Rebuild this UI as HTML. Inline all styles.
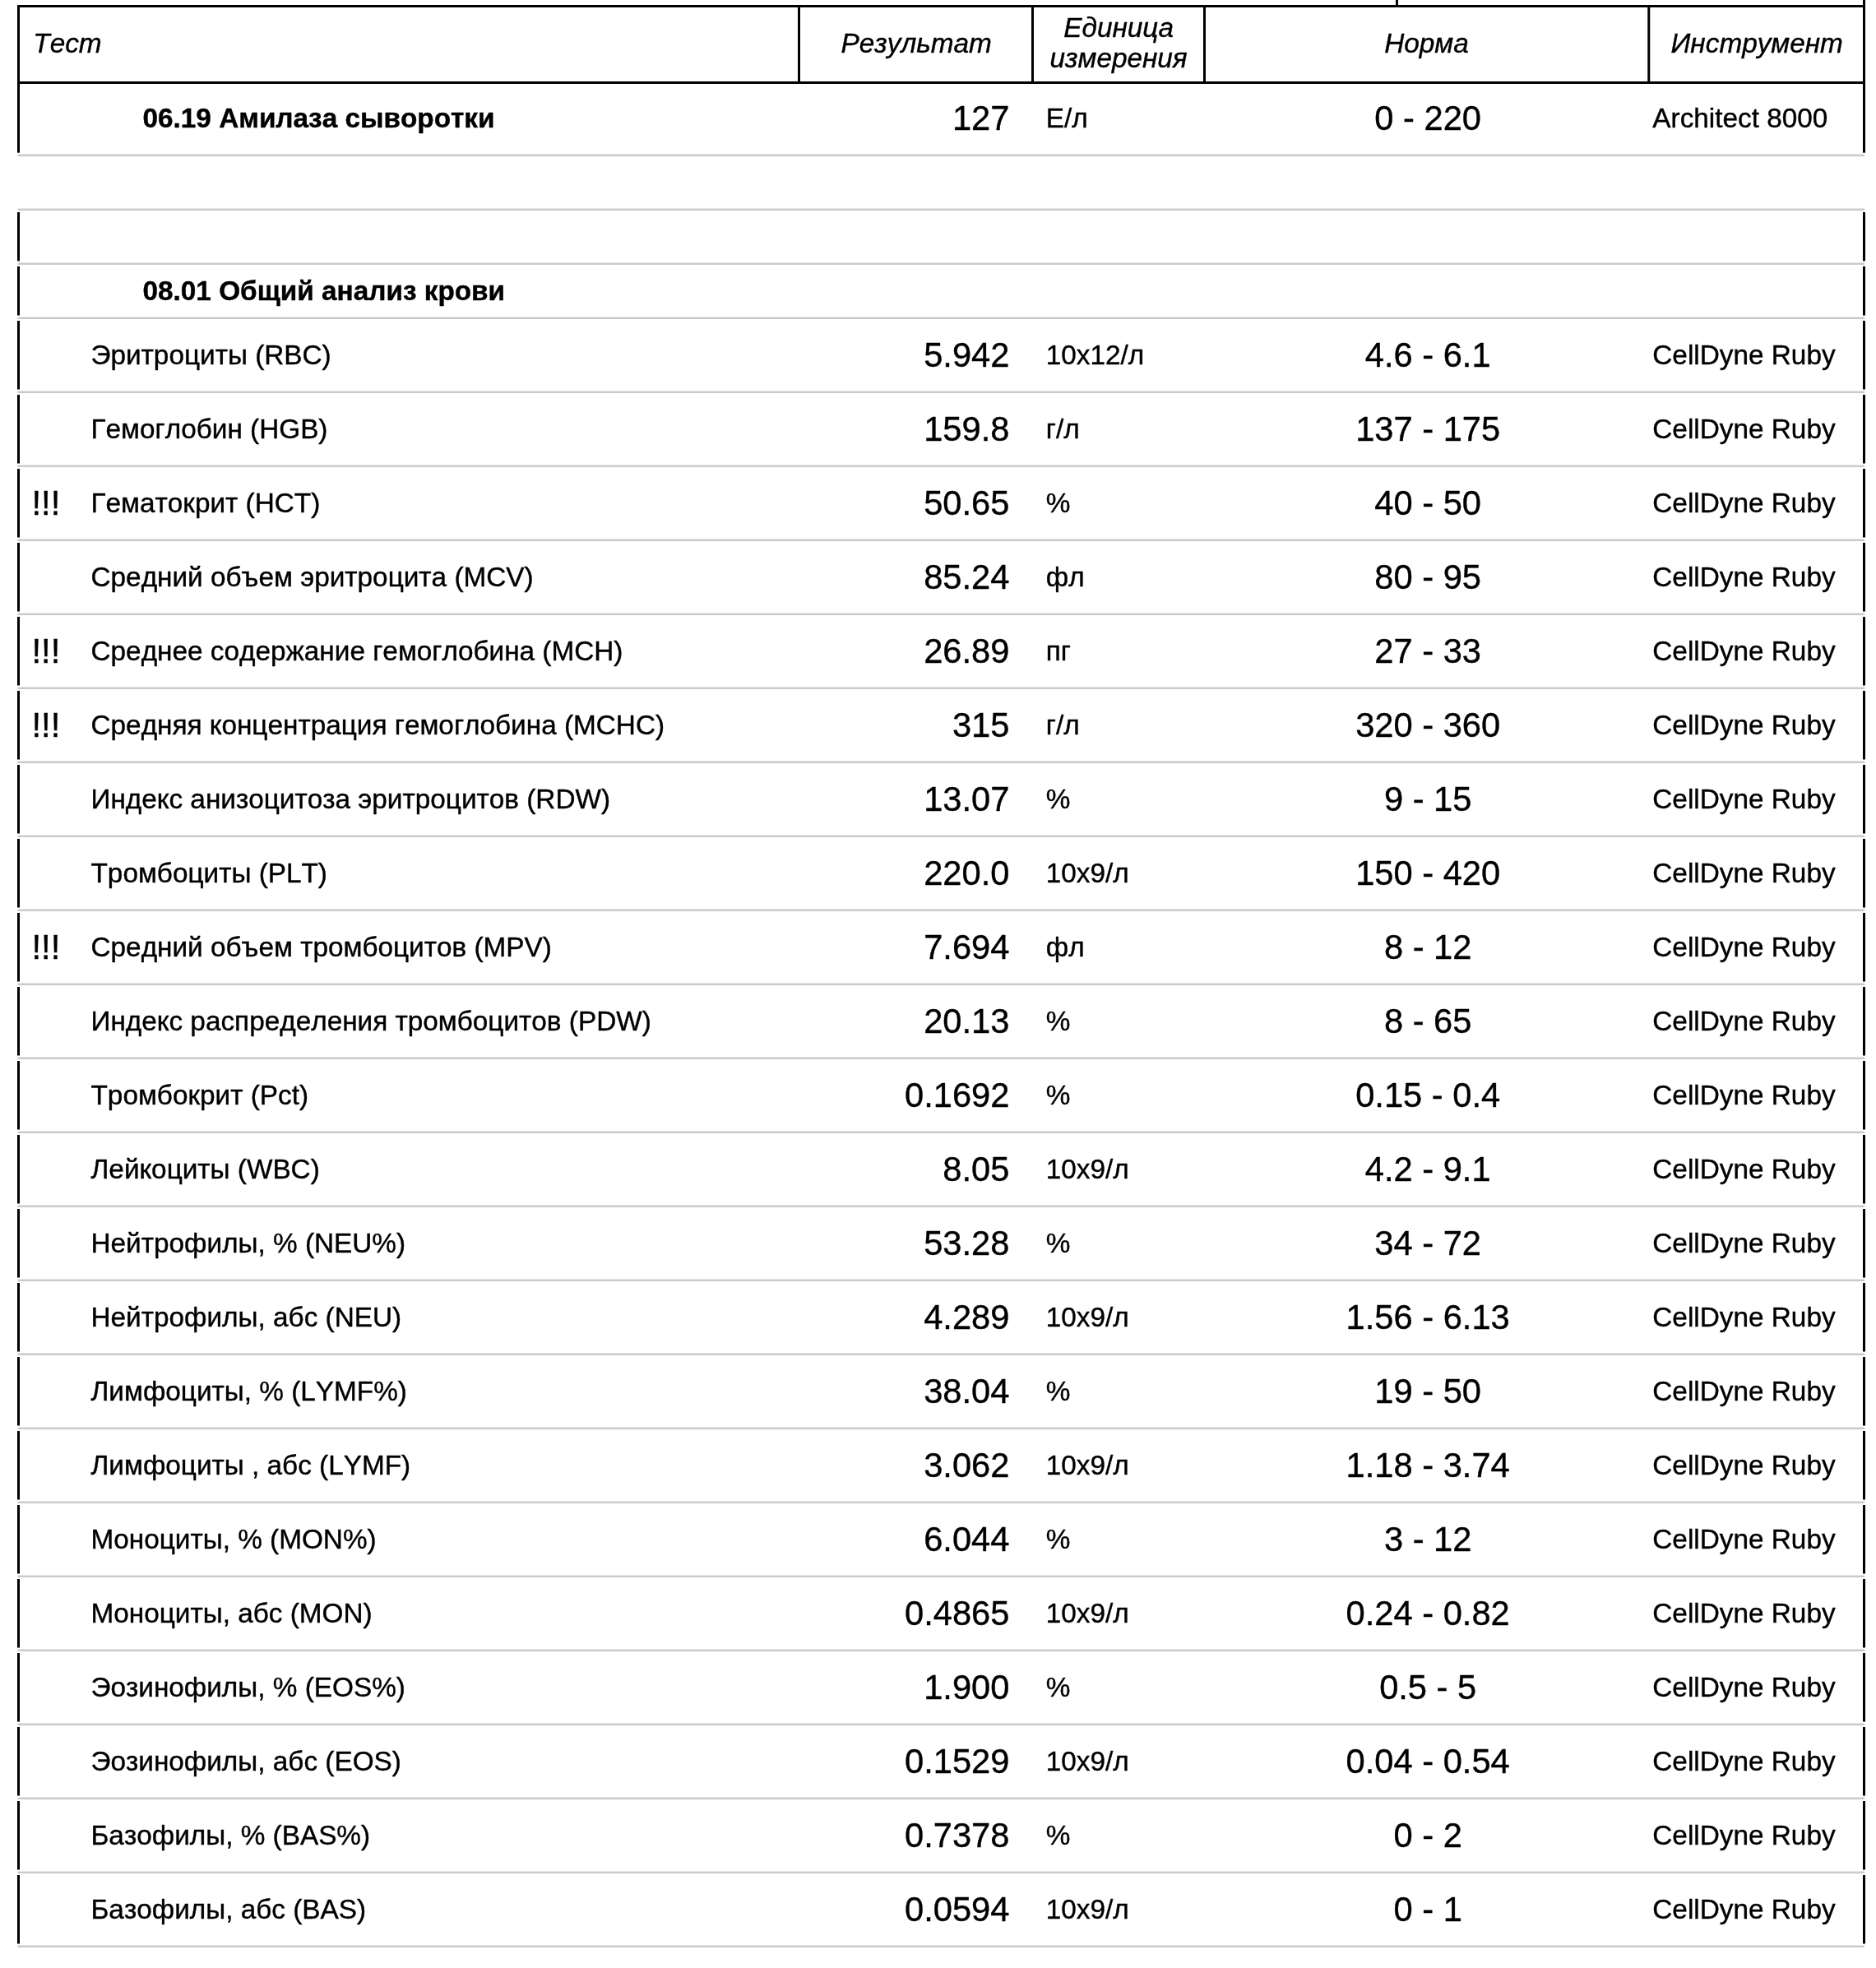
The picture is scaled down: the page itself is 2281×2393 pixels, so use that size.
<!DOCTYPE html>
<html><head><meta charset="utf-8"><title>Результаты</title>
<style>
html,body{margin:0;padding:0;background:#fff}
body{width:2281px;height:2393px;position:relative;overflow:hidden;font-family:"Liberation Sans",sans-serif;color:#000}
.ln{position:absolute;left:0;top:0}
.tx{position:absolute;left:0;top:0;width:2281px;height:2393px;will-change:transform}
.t{position:absolute;-webkit-text-stroke:0.4px #000;font-kerning:none;white-space:nowrap;line-height:50px;height:50px}
.i{font-style:italic;font-size:33.333px}
.b{font-weight:bold;font-size:33.333px}
.n8{font-size:33.333px}
.n10{font-size:41.667px}
</style></head><body>
<svg class="ln" width="2281" height="2393" viewBox="0 0 2281 2393">
<rect x="21.50" y="187.65" width="2245.50" height="2.50" fill="#cacaca"/>
<rect x="21.50" y="253.55" width="2245.50" height="2.50" fill="#cacaca"/>
<rect x="21.50" y="319.45" width="2245.50" height="2.50" fill="#cacaca"/>
<rect x="21.50" y="385.55" width="2245.50" height="2.50" fill="#cacaca"/>
<rect x="21.50" y="475.55" width="2245.50" height="2.50" fill="#cacaca"/>
<rect x="21.50" y="565.55" width="2245.50" height="2.50" fill="#cacaca"/>
<rect x="21.50" y="655.55" width="2245.50" height="2.50" fill="#cacaca"/>
<rect x="21.50" y="745.55" width="2245.50" height="2.50" fill="#cacaca"/>
<rect x="21.50" y="835.55" width="2245.50" height="2.50" fill="#cacaca"/>
<rect x="21.50" y="925.55" width="2245.50" height="2.50" fill="#cacaca"/>
<rect x="21.50" y="1015.55" width="2245.50" height="2.50" fill="#cacaca"/>
<rect x="21.50" y="1105.55" width="2245.50" height="2.50" fill="#cacaca"/>
<rect x="21.50" y="1195.55" width="2245.50" height="2.50" fill="#cacaca"/>
<rect x="21.50" y="1285.55" width="2245.50" height="2.50" fill="#cacaca"/>
<rect x="21.50" y="1375.55" width="2245.50" height="2.50" fill="#cacaca"/>
<rect x="21.50" y="1465.55" width="2245.50" height="2.50" fill="#cacaca"/>
<rect x="21.50" y="1555.55" width="2245.50" height="2.50" fill="#cacaca"/>
<rect x="21.50" y="1645.55" width="2245.50" height="2.50" fill="#cacaca"/>
<rect x="21.50" y="1735.55" width="2245.50" height="2.50" fill="#cacaca"/>
<rect x="21.50" y="1825.55" width="2245.50" height="2.50" fill="#cacaca"/>
<rect x="21.50" y="1915.55" width="2245.50" height="2.50" fill="#cacaca"/>
<rect x="21.50" y="2005.55" width="2245.50" height="2.50" fill="#cacaca"/>
<rect x="21.50" y="2095.55" width="2245.50" height="2.50" fill="#cacaca"/>
<rect x="21.50" y="2185.55" width="2245.50" height="2.50" fill="#cacaca"/>
<rect x="21.50" y="2275.55" width="2245.50" height="2.50" fill="#cacaca"/>
<rect x="21.50" y="2365.55" width="2245.50" height="2.50" fill="#cacaca"/>
<rect x="21.00" y="6.00" width="2247.00" height="3.00" fill="#000"/>
<rect x="21.00" y="99.00" width="2247.00" height="3.00" fill="#000"/>
<rect x="970.00" y="6.00" width="3.00" height="94.00" fill="#000"/>
<rect x="1254.00" y="6.00" width="3.00" height="94.00" fill="#000"/>
<rect x="1463.00" y="6.00" width="3.00" height="94.00" fill="#000"/>
<rect x="2003.30" y="6.00" width="3.00" height="94.00" fill="#000"/>
<rect x="1697.00" y="0.00" width="3.00" height="6.00" fill="#000"/>
<rect x="21.00" y="6.00" width="3.00" height="179.70" fill="#000"/>
<rect x="2265.00" y="0.00" width="3.00" height="185.70" fill="#000"/>
<rect x="21.00" y="258.00" width="3.00" height="59.40" fill="#000"/>
<rect x="2265.00" y="258.00" width="3.00" height="59.40" fill="#000"/>
<rect x="21.00" y="323.90" width="3.00" height="59.60" fill="#000"/>
<rect x="2265.00" y="323.90" width="3.00" height="59.60" fill="#000"/>
<rect x="21.00" y="390.00" width="3.00" height="83.50" fill="#000"/>
<rect x="2265.00" y="390.00" width="3.00" height="83.50" fill="#000"/>
<rect x="21.00" y="480.00" width="3.00" height="83.50" fill="#000"/>
<rect x="2265.00" y="480.00" width="3.00" height="83.50" fill="#000"/>
<rect x="21.00" y="570.00" width="3.00" height="83.50" fill="#000"/>
<rect x="2265.00" y="570.00" width="3.00" height="83.50" fill="#000"/>
<rect x="21.00" y="660.00" width="3.00" height="83.50" fill="#000"/>
<rect x="2265.00" y="660.00" width="3.00" height="83.50" fill="#000"/>
<rect x="21.00" y="750.00" width="3.00" height="83.50" fill="#000"/>
<rect x="2265.00" y="750.00" width="3.00" height="83.50" fill="#000"/>
<rect x="21.00" y="840.00" width="3.00" height="83.50" fill="#000"/>
<rect x="2265.00" y="840.00" width="3.00" height="83.50" fill="#000"/>
<rect x="21.00" y="930.00" width="3.00" height="83.50" fill="#000"/>
<rect x="2265.00" y="930.00" width="3.00" height="83.50" fill="#000"/>
<rect x="21.00" y="1020.00" width="3.00" height="83.50" fill="#000"/>
<rect x="2265.00" y="1020.00" width="3.00" height="83.50" fill="#000"/>
<rect x="21.00" y="1110.00" width="3.00" height="83.50" fill="#000"/>
<rect x="2265.00" y="1110.00" width="3.00" height="83.50" fill="#000"/>
<rect x="21.00" y="1200.00" width="3.00" height="83.50" fill="#000"/>
<rect x="2265.00" y="1200.00" width="3.00" height="83.50" fill="#000"/>
<rect x="21.00" y="1290.00" width="3.00" height="83.50" fill="#000"/>
<rect x="2265.00" y="1290.00" width="3.00" height="83.50" fill="#000"/>
<rect x="21.00" y="1380.00" width="3.00" height="83.50" fill="#000"/>
<rect x="2265.00" y="1380.00" width="3.00" height="83.50" fill="#000"/>
<rect x="21.00" y="1470.00" width="3.00" height="83.50" fill="#000"/>
<rect x="2265.00" y="1470.00" width="3.00" height="83.50" fill="#000"/>
<rect x="21.00" y="1560.00" width="3.00" height="83.50" fill="#000"/>
<rect x="2265.00" y="1560.00" width="3.00" height="83.50" fill="#000"/>
<rect x="21.00" y="1650.00" width="3.00" height="83.50" fill="#000"/>
<rect x="2265.00" y="1650.00" width="3.00" height="83.50" fill="#000"/>
<rect x="21.00" y="1740.00" width="3.00" height="83.50" fill="#000"/>
<rect x="2265.00" y="1740.00" width="3.00" height="83.50" fill="#000"/>
<rect x="21.00" y="1830.00" width="3.00" height="83.50" fill="#000"/>
<rect x="2265.00" y="1830.00" width="3.00" height="83.50" fill="#000"/>
<rect x="21.00" y="1920.00" width="3.00" height="83.50" fill="#000"/>
<rect x="2265.00" y="1920.00" width="3.00" height="83.50" fill="#000"/>
<rect x="21.00" y="2010.00" width="3.00" height="83.50" fill="#000"/>
<rect x="2265.00" y="2010.00" width="3.00" height="83.50" fill="#000"/>
<rect x="21.00" y="2100.00" width="3.00" height="83.50" fill="#000"/>
<rect x="2265.00" y="2100.00" width="3.00" height="83.50" fill="#000"/>
<rect x="21.00" y="2190.00" width="3.00" height="83.50" fill="#000"/>
<rect x="2265.00" y="2190.00" width="3.00" height="83.50" fill="#000"/>
<rect x="21.00" y="2280.00" width="3.00" height="83.50" fill="#000"/>
<rect x="2265.00" y="2280.00" width="3.00" height="83.50" fill="#000"/>
</svg>
<div class="tx">
<div class="t i" style="top:28.25px;left:40.30px">Тест</div>
<div class="t i" style="top:28.25px;left:714.20px;width:800px;text-align:center">Результат</div>
<div class="t i" style="top:8.95px;left:960.10px;width:800px;text-align:center">Единица</div>
<div class="t i" style="top:46.45px;left:960.10px;width:800px;text-align:center">измерения</div>
<div class="t i" style="top:28.25px;left:1334.50px;width:800px;text-align:center">Норма</div>
<div class="t i" style="top:28.25px;left:1736.20px;width:800px;text-align:center">Инструмент</div>
<div class="t b" style="top:119.05px;left:173.50px">06.19 Амилаза сыворотки</div>
<div class="t n10" style="top:118.56px;right:1053.60px">127</div>
<div class="t n8" style="top:119.25px;left:1271.80px">Е/л</div>
<div class="t n10" style="top:118.56px;left:1336.20px;width:800px;text-align:center">0 - 220</div>
<div class="t n8" style="top:119.25px;left:2009.30px">Architect 8000</div>
<div class="t b" style="top:328.65px;left:173.50px">08.01 Общий анализ крови</div>
<div class="t n8" style="top:407.45px;left:110.50px">Эритроциты (RBC)</div>
<div class="t n10" style="top:406.66px;right:1053.60px">5.942</div>
<div class="t n8" style="top:407.45px;left:1271.80px">10х12/л</div>
<div class="t n10" style="top:406.66px;left:1336.20px;width:800px;text-align:center">4.6 - 6.1</div>
<div class="t n8" style="top:407.45px;left:2009.30px">CellDyne Ruby</div>
<div class="t n8" style="top:497.45px;left:110.50px">Гемоглобин (HGB)</div>
<div class="t n10" style="top:496.66px;right:1053.60px">159.8</div>
<div class="t n8" style="top:497.45px;left:1271.80px">г/л</div>
<div class="t n10" style="top:496.66px;left:1336.20px;width:800px;text-align:center">137 - 175</div>
<div class="t n8" style="top:497.45px;left:2009.30px">CellDyne Ruby</div>
<div class="t n10" style="top:586.66px;left:38.50px">!!!</div>
<div class="t n8" style="top:587.45px;left:110.50px">Гематокрит (HCT)</div>
<div class="t n10" style="top:586.66px;right:1053.60px">50.65</div>
<div class="t n8" style="top:587.45px;left:1271.80px">%</div>
<div class="t n10" style="top:586.66px;left:1336.20px;width:800px;text-align:center">40 - 50</div>
<div class="t n8" style="top:587.45px;left:2009.30px">CellDyne Ruby</div>
<div class="t n8" style="top:677.45px;left:110.50px">Средний объем эритроцита (MCV)</div>
<div class="t n10" style="top:676.66px;right:1053.60px">85.24</div>
<div class="t n8" style="top:677.45px;left:1271.80px">фл</div>
<div class="t n10" style="top:676.66px;left:1336.20px;width:800px;text-align:center">80 - 95</div>
<div class="t n8" style="top:677.45px;left:2009.30px">CellDyne Ruby</div>
<div class="t n10" style="top:766.66px;left:38.50px">!!!</div>
<div class="t n8" style="top:767.45px;left:110.50px">Среднее содержание гемоглобина (MCH)</div>
<div class="t n10" style="top:766.66px;right:1053.60px">26.89</div>
<div class="t n8" style="top:767.45px;left:1271.80px">пг</div>
<div class="t n10" style="top:766.66px;left:1336.20px;width:800px;text-align:center">27 - 33</div>
<div class="t n8" style="top:767.45px;left:2009.30px">CellDyne Ruby</div>
<div class="t n10" style="top:856.66px;left:38.50px">!!!</div>
<div class="t n8" style="top:857.45px;left:110.50px">Средняя концентрация гемоглобина (MCHC)</div>
<div class="t n10" style="top:856.66px;right:1053.60px">315</div>
<div class="t n8" style="top:857.45px;left:1271.80px">г/л</div>
<div class="t n10" style="top:856.66px;left:1336.20px;width:800px;text-align:center">320 - 360</div>
<div class="t n8" style="top:857.45px;left:2009.30px">CellDyne Ruby</div>
<div class="t n8" style="top:947.45px;left:110.50px">Индекс анизоцитоза эритроцитов (RDW)</div>
<div class="t n10" style="top:946.66px;right:1053.60px">13.07</div>
<div class="t n8" style="top:947.45px;left:1271.80px">%</div>
<div class="t n10" style="top:946.66px;left:1336.20px;width:800px;text-align:center">9 - 15</div>
<div class="t n8" style="top:947.45px;left:2009.30px">CellDyne Ruby</div>
<div class="t n8" style="top:1037.45px;left:110.50px">Тромбоциты (PLT)</div>
<div class="t n10" style="top:1036.66px;right:1053.60px">220.0</div>
<div class="t n8" style="top:1037.45px;left:1271.80px">10х9/л</div>
<div class="t n10" style="top:1036.66px;left:1336.20px;width:800px;text-align:center">150 - 420</div>
<div class="t n8" style="top:1037.45px;left:2009.30px">CellDyne Ruby</div>
<div class="t n10" style="top:1126.66px;left:38.50px">!!!</div>
<div class="t n8" style="top:1127.45px;left:110.50px">Средний объем тромбоцитов (MPV)</div>
<div class="t n10" style="top:1126.66px;right:1053.60px">7.694</div>
<div class="t n8" style="top:1127.45px;left:1271.80px">фл</div>
<div class="t n10" style="top:1126.66px;left:1336.20px;width:800px;text-align:center">8 - 12</div>
<div class="t n8" style="top:1127.45px;left:2009.30px">CellDyne Ruby</div>
<div class="t n8" style="top:1217.45px;left:110.50px">Индекс распределения тромбоцитов (PDW)</div>
<div class="t n10" style="top:1216.66px;right:1053.60px">20.13</div>
<div class="t n8" style="top:1217.45px;left:1271.80px">%</div>
<div class="t n10" style="top:1216.66px;left:1336.20px;width:800px;text-align:center">8 - 65</div>
<div class="t n8" style="top:1217.45px;left:2009.30px">CellDyne Ruby</div>
<div class="t n8" style="top:1307.45px;left:110.50px">Тромбокрит (Pct)</div>
<div class="t n10" style="top:1306.66px;right:1053.60px">0.1692</div>
<div class="t n8" style="top:1307.45px;left:1271.80px">%</div>
<div class="t n10" style="top:1306.66px;left:1336.20px;width:800px;text-align:center">0.15 - 0.4</div>
<div class="t n8" style="top:1307.45px;left:2009.30px">CellDyne Ruby</div>
<div class="t n8" style="top:1397.45px;left:110.50px">Лейкоциты (WBC)</div>
<div class="t n10" style="top:1396.66px;right:1053.60px">8.05</div>
<div class="t n8" style="top:1397.45px;left:1271.80px">10х9/л</div>
<div class="t n10" style="top:1396.66px;left:1336.20px;width:800px;text-align:center">4.2 - 9.1</div>
<div class="t n8" style="top:1397.45px;left:2009.30px">CellDyne Ruby</div>
<div class="t n8" style="top:1487.45px;left:110.50px">Нейтрофилы, % (NEU%)</div>
<div class="t n10" style="top:1486.66px;right:1053.60px">53.28</div>
<div class="t n8" style="top:1487.45px;left:1271.80px">%</div>
<div class="t n10" style="top:1486.66px;left:1336.20px;width:800px;text-align:center">34 - 72</div>
<div class="t n8" style="top:1487.45px;left:2009.30px">CellDyne Ruby</div>
<div class="t n8" style="top:1577.45px;left:110.50px">Нейтрофилы, абс (NEU)</div>
<div class="t n10" style="top:1576.66px;right:1053.60px">4.289</div>
<div class="t n8" style="top:1577.45px;left:1271.80px">10х9/л</div>
<div class="t n10" style="top:1576.66px;left:1336.20px;width:800px;text-align:center">1.56 - 6.13</div>
<div class="t n8" style="top:1577.45px;left:2009.30px">CellDyne Ruby</div>
<div class="t n8" style="top:1667.45px;left:110.50px">Лимфоциты, % (LYMF%)</div>
<div class="t n10" style="top:1666.66px;right:1053.60px">38.04</div>
<div class="t n8" style="top:1667.45px;left:1271.80px">%</div>
<div class="t n10" style="top:1666.66px;left:1336.20px;width:800px;text-align:center">19 - 50</div>
<div class="t n8" style="top:1667.45px;left:2009.30px">CellDyne Ruby</div>
<div class="t n8" style="top:1757.45px;left:110.50px">Лимфоциты , абс (LYMF)</div>
<div class="t n10" style="top:1756.66px;right:1053.60px">3.062</div>
<div class="t n8" style="top:1757.45px;left:1271.80px">10х9/л</div>
<div class="t n10" style="top:1756.66px;left:1336.20px;width:800px;text-align:center">1.18 - 3.74</div>
<div class="t n8" style="top:1757.45px;left:2009.30px">CellDyne Ruby</div>
<div class="t n8" style="top:1847.45px;left:110.50px">Моноциты, % (MON%)</div>
<div class="t n10" style="top:1846.66px;right:1053.60px">6.044</div>
<div class="t n8" style="top:1847.45px;left:1271.80px">%</div>
<div class="t n10" style="top:1846.66px;left:1336.20px;width:800px;text-align:center">3 - 12</div>
<div class="t n8" style="top:1847.45px;left:2009.30px">CellDyne Ruby</div>
<div class="t n8" style="top:1937.45px;left:110.50px">Моноциты, абс (MON)</div>
<div class="t n10" style="top:1936.66px;right:1053.60px">0.4865</div>
<div class="t n8" style="top:1937.45px;left:1271.80px">10х9/л</div>
<div class="t n10" style="top:1936.66px;left:1336.20px;width:800px;text-align:center">0.24 - 0.82</div>
<div class="t n8" style="top:1937.45px;left:2009.30px">CellDyne Ruby</div>
<div class="t n8" style="top:2027.45px;left:110.50px">Эозинофилы, % (EOS%)</div>
<div class="t n10" style="top:2026.66px;right:1053.60px">1.900</div>
<div class="t n8" style="top:2027.45px;left:1271.80px">%</div>
<div class="t n10" style="top:2026.66px;left:1336.20px;width:800px;text-align:center">0.5 - 5</div>
<div class="t n8" style="top:2027.45px;left:2009.30px">CellDyne Ruby</div>
<div class="t n8" style="top:2117.45px;left:110.50px">Эозинофилы, абс (EOS)</div>
<div class="t n10" style="top:2116.66px;right:1053.60px">0.1529</div>
<div class="t n8" style="top:2117.45px;left:1271.80px">10х9/л</div>
<div class="t n10" style="top:2116.66px;left:1336.20px;width:800px;text-align:center">0.04 - 0.54</div>
<div class="t n8" style="top:2117.45px;left:2009.30px">CellDyne Ruby</div>
<div class="t n8" style="top:2207.45px;left:110.50px">Базофилы, % (BAS%)</div>
<div class="t n10" style="top:2206.66px;right:1053.60px">0.7378</div>
<div class="t n8" style="top:2207.45px;left:1271.80px">%</div>
<div class="t n10" style="top:2206.66px;left:1336.20px;width:800px;text-align:center">0 - 2</div>
<div class="t n8" style="top:2207.45px;left:2009.30px">CellDyne Ruby</div>
<div class="t n8" style="top:2297.45px;left:110.50px">Базофилы, абс (BAS)</div>
<div class="t n10" style="top:2296.66px;right:1053.60px">0.0594</div>
<div class="t n8" style="top:2297.45px;left:1271.80px">10х9/л</div>
<div class="t n10" style="top:2296.66px;left:1336.20px;width:800px;text-align:center">0 - 1</div>
<div class="t n8" style="top:2297.45px;left:2009.30px">CellDyne Ruby</div>
</div>
</body></html>
